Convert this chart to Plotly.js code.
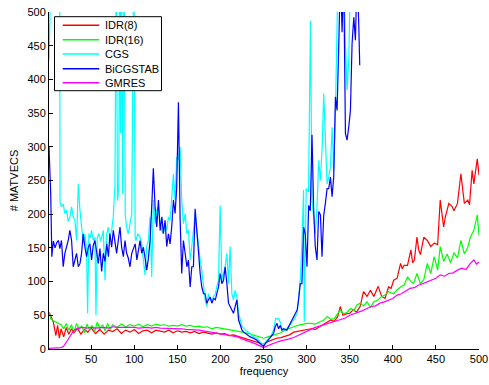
<!DOCTYPE html>
<html>
<head>
<meta charset="utf-8">
<script src="https://cdn.plot.ly/plotly-3.0.1.min.js"></script>
<style>
  html, body { margin: 0; padding: 0; background: #ffffff; }
  #chart { width: 489px; height: 385px; }
</style>
</head>
<body>
<div id="chart"></div>
<script>
// Matrix-vector products needed per frequency for five Krylov solvers.

const seriesNames = ["IDR(8)", "IDR(16)", "CGS", "BiCGSTAB", "GMRES"];
const seriesColors = ["#ff0000", "#00ff00", "#00ffff", "#0000ff", "#ff00ff"];

const xTicks = [50, 100, 150, 200, 250, 300, 350, 400, 450, 500];
const yTicks = [0, 50, 100, 150, 200, 250, 300, 350, 400, 450, 500];

// IDR(8)
const freqIdr8 = [1,3,6,9,11,13,15,18,21,24,27,30,34,38,42,46,50,55,60,65,70,75,80,85,90,95,100,105,110,115,120,125,130,135,140,145,150,155,160,165,170,175,180,185,190,195,200,205,210,215,220,225,230,235,240,245,250,255,260,265,270,275,280,285,290,295,300,305,310,315,320,324,328,332,336,339,342,346,350,354,358,362,366,370,374,378,383,387,391,395,398,401,405,409,411,413,417,421,423,425,428,430,432,436,440,444,448,452,455,459,461,465,469,471,475,479,483,487,489,492,494,498,500];
const idr8 = [55,48,40,20,35,16,30,18,32,22,30,24,31,22,29,25,31,23,29,22,28,26,30,23,28,25,29,23,27,28,24,28,27,25,28,24,27,25,26,24,26,23,25,24,22,24,22,23,20,21,19,17,16,14,12,10,7,11,14,16,17,19,21,25,26,27,28,30,29,33,36,40,43,41,48,63,50,52,53,58,55,63,85,78,87,78,93,78,75,92,90,102,105,127,119,124,124,147,128,132,166,147,140,166,161,152,157,155,221,181,196,216,211,205,216,260,216,221,214,265,245,282,258];

// IDR(16)
const freqIdr16 = [1,3,6,9,12,15,18,21,24,27,30,33,36,39,42,45,48,51,54,57,60,63,66,69,72,75,80,85,90,95,100,105,110,115,120,125,130,135,140,145,150,155,160,165,170,175,180,185,190,195,200,205,210,215,220,225,230,235,240,245,250,255,260,265,270,275,280,285,290,295,300,305,310,315,320,324,328,332,336,339,343,347,351,355,358,362,366,370,374,378,383,387,391,395,401,405,409,413,417,421,424,428,432,436,440,444,448,452,455,459,463,467,471,475,479,483,487,490,494,498,500];
const idr16 = [55,45,42,40,38,36,30,38,28,36,25,38,30,34,24,37,28,35,26,40,30,36,27,38,29,36,32,37,33,36,34,37,33,36,34,37,35,36,34,35,34,36,34,35,33,34,32,33,30,32,31,30,29,28,27,25,24,22,20,18,16,18,20,22,24,28,31,33,35,37,38,38,37,40,43,48,44,45,52,58,52,55,60,57,65,68,64,70,62,70,73,78,80,85,82,88,92,95,107,100,97,112,97,103,127,112,137,117,152,130,141,128,143,135,161,141,151,166,176,199,169];

// CGS (values above 500 run off the top of the axes)
const freqCgs = [1,2,4,6,8,10,12,13.3,13.8,15.5,17.5,19.4,21.4,23.3,25.2,27.2,29.1,31,33,35,36.9,38.8,40.7,42.7,44.6,45.8,47.3,49,50.4,52.4,54.3,55.5,57,59,61,63,64,66,68,69.8,71.7,73.7,75.6,77.6,79,80.5,82,83,84,85,86.5,88,89.5,91,93,95,97,99.5,101,102,104,106.6,108.6,110.5,112.4,114.4,116.3,118.3,120.2,122.1,124.1,126,128,130,131.8,133.7,135.7,137.6,139.6,141.5,143.4,145.4,147.3,149.2,151.2,153.1,155,157,159,161,162.8,164.8,166.7,168.6,170.6,172.5,174.5,176.4,178.3,180.3,182.2,184.1,186,188,190,192,194,195.7,197.7,199.6,201.6,203.5,205.4,207.4,209.3,211.2,213.2,215.1,217,219,221,223,225,229,234.5,238.3,242.2,246,250,254,258,261.6,264,267.4,269.3,271.3,275,279,285,289,292.6,294.5,296.4,297.2,299.5,302.2,304.4,306.2,308,310,312,314,316,318,319.8,321.6,323.7,325.6,327.6,329.5,331.4,333.4,335.3,336.5,339,341,343,345,346.9,348.9,350.8,354,358,362];
const cgs = [428,600,600,600,600,600,600,600,218,211,215,201,206,189,196,211,196,191,161,245,206,176,157,171,147,53,171,165,176,161,166,50,166,171,160,170,176,102,171,181,166,176,196,245,600,220,240,600,320,600,230,600,200,181,171,186,200,600,166,161,171,166,156,132,110,152,161,196,107,221,186,206,211,186,176,171,186,176,196,191,226,260,221,285,280,300,221,186,201,171,176,132,152,176,201,176,152,132,117,92,73,63,82,73,73,78,82,92,102,213,102,112,122,142,97,152,82,73,87,78,53,43,33,28,23,18,16,11,6,13,18,28,45,45,40,30,28,33,43,53,102,157,236,40,238,233,487,221,196,171,211,280,250,300,379,310,245,255,270,329,265,354,453,560,560,560,560,453,384,430,560,560,560,560];

// BiCGSTAB (values above 500 run off the top of the axes)
const freqBicg = [1,3,4.3,6,8,10,12,13.6,15.5,17.5,19.4,21.4,23.3,25.2,27.2,29.1,31,33,35,37,38.8,40.7,42.7,44.6,46.6,48.5,50.4,52.4,54.3,56.2,58.2,60.1,62.1,64,66,68,70,71.7,73.7,75.6,77.6,79.5,81.4,83.4,85.3,87.3,89.2,91.1,93,95,97,99,101,103,105,106.6,108.6,110.5,112.5,114.4,116.3,118.3,120.2,122.1,124.1,126,128,130,132,133.7,135.7,137.6,139.6,141.5,143.4,145.4,147.3,149.2,151.2,153.1,155,157,159,161,162.8,164.8,166.7,168.6,170.6,172.5,174.5,176.4,178.3,180.3,182.2,184.1,186,188,190,192,194,195.7,197.7,199.6,201.6,203.5,205.4,207.4,209.3,211.2,213.2,215.1,217,219,221,223,225,227,229,231,234.5,238.3,242.2,246,250,252,254,258,261.6,263.5,265.5,267.4,269.3,271.3,273.2,277,279,281,285,289,290.6,292.6,294.5,296.5,298.4,300.4,302.3,304.2,306.2,308.1,310,312,314,316,317.8,319.8,321.7,323.7,325.6,327.6,329.5,331.4,333.4,335.3,337.3,339.2,341.1,343,345,346.9,348.9,350.8,352.7,354.7,356.6,358.5,360.5,361.6];
const bicgstab = [300,230,137,160,150,158,161,149,161,122,142,150,161,176,161,122,132,142,122,127,142,171,151,137,151,156,132,154,161,142,127,149,115,142,130,156,137,171,151,176,159,142,161,181,151,137,161,142,135,122,142,148,156,132,150,161,142,151,135,117,134,161,211,268,211,181,221,176,196,171,191,152,171,156,181,221,201,240,366,196,112,161,142,122,132,92,122,122,208,176,132,112,92,82,82,68,73,77,68,75,73,82,92,112,97,102,122,97,68,63,58,53,63,73,43,36,28,25,23,21,18,16,13,8,3.5,8,11,18,23,33,38,30,35,28,30,28,33,38,48,58,73,97,97,181,170,122,213,205,318,208,152,132,204,199,137,198,216,238,238,255,226,255,374,354,453,560,470,560,320,310,330,354,453,492,458,560,480,421];

// GMRES
const freqGmres = [1,5,10,15,18,21,24,27,30,33,36,40,45,50,55,60,65,70,75,80,85,90,95,100,105,110,115,120,125,130,135,140,145,150,155,160,165,170,175,180,185,190,195,200,205,210,215,220,225,230,235,240,245,250,255,260,265,270,275,280,285,290,295,300,305,310,315,320,325,330,335,340,345,350,355,360,365,370,375,380,385,390,395,400,405,410,415,420,425,430,435,440,445,450,455,460,465,470,475,480,485,490,494,497,500];
const gmres = [1,1,1,2,4,10,18,24,28,30,31,32,31,32,31,32,32,31,33,32,32,33,32,32,31,32,32,31,32,31,31,30,30,31,30,29,29,28,28,27,26,25,24,23,22,20,19,18,15,13,11,8,5,2,5,8,10,12,13,15,17,20,24,27,30,32,34,36,38,40,42,45,46,50,52,55,57,60,63,64,68,70,72,75,80,82,86,90,91,95,97,100,102,105,110,108,112,113,117,120,118,127,132,126,129];

const seriesFreq = [freqIdr8, freqIdr16, freqCgs, freqBicg, freqGmres];
const seriesVals = [idr8, idr16, cgs, bicgstab, gmres];

// Plot area in pixels
const W = 489, H = 385;
const M = { l: 49, r: 10, t: 12, b: 36 };
const plotW = W - M.l - M.r, plotH = H - M.t - M.b;
const px2x = p => (p - M.l) / plotW;
const py2y = p => (H - M.b - p) / plotH;

const traces = seriesNames.map((name, i) => ({
  type: "scatter",
  mode: "lines",
  name: name,
  x: seriesFreq[i],
  y: seriesVals[i],
  line: { color: seriesColors[i], width: 1.2 },
  showlegend: false,
  hoverinfo: "skip"
}));

// Boxed legend in the upper-left corner
const legBox = { x0: 54.5, x1: 161.5, y0: 16.7, y1: 90.7 };
const legRows = [25.3, 39.7, 54, 68.7, 82.7];
const legLine = { x0: 62.7, x1: 99.3 };
const legTextX = 102.5;

const shapes = [{
  type: "rect", xref: "paper", yref: "paper", layer: "above",
  x0: px2x(legBox.x0), x1: px2x(legBox.x1),
  y0: py2y(legBox.y1), y1: py2y(legBox.y0),
  line: { color: "#000000", width: 1 }, fillcolor: "#ffffff"
}];
const annotations = [];
seriesNames.forEach((name, i) => {
  shapes.push({
    type: "line", xref: "paper", yref: "paper", layer: "above",
    x0: px2x(legLine.x0), x1: px2x(legLine.x1),
    y0: py2y(legRows[i]), y1: py2y(legRows[i]),
    line: { color: seriesColors[i], width: 1.5 }
  });
  annotations.push({
    xref: "paper", yref: "paper", x: px2x(legTextX), y: py2y(legRows[i]),
    xanchor: "left", yanchor: "middle", showarrow: false,
    text: name, font: { family: "Liberation Sans, Arial, sans-serif", size: 11, color: "#000000" }
  });
});

const axisFont = { family: "Liberation Sans, Arial, sans-serif", size: 11, color: "#000000" };

const layout = {
  width: W, height: H,
  margin: M,
  paper_bgcolor: "#ffffff",
  plot_bgcolor: "#ffffff",
  showlegend: false,
  font: axisFont,
  xaxis: {
    range: [1, 500],
    tickmode: "array", tickvals: xTicks, ticktext: xTicks.map(String),
    ticks: "inside", ticklen: 4, tickwidth: 1, tickcolor: "#000000",
    showline: true, linecolor: "#000000", linewidth: 1,
    showgrid: false, zeroline: false, automargin: false,
    tickfont: axisFont,
    title: { text: "frequency", font: axisFont, standoff: 3 }
  },
  yaxis: {
    range: [0, 500],
    tickmode: "array", tickvals: yTicks, ticktext: yTicks.map(String),
    ticks: "inside", ticklen: 4, tickwidth: 1, tickcolor: "#000000",
    showline: true, linecolor: "#000000", linewidth: 1,
    showgrid: false, zeroline: false, automargin: false,
    tickfont: axisFont,
    title: { text: "# MATVECS", font: axisFont, standoff: 6 }
  },
  shapes: shapes,
  annotations: annotations
};

Plotly.newPlot("chart", traces, layout, { staticPlot: true, displayModeBar: false });
</script>
</body>
</html>
